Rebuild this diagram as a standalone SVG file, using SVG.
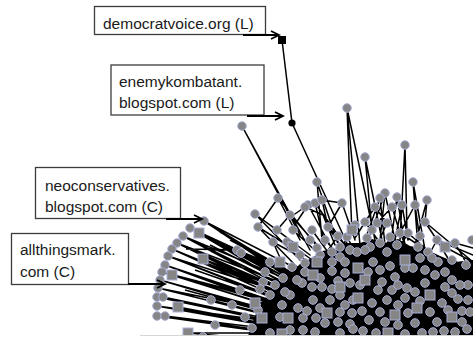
<svg xmlns="http://www.w3.org/2000/svg" xmlns:xlink="http://www.w3.org/1999/xlink" width="473" height="341" viewBox="0 0 473 341">
  <style>
    .nd { fill: #858585; stroke: #a9b0da; stroke-width: 1; }
    .ln { stroke: #000; stroke-width: 1.5; fill: none; stroke-linecap: round; }
    .fan { stroke: #000; stroke-width: 1.5; fill: none; }
    .box { fill: #fff; stroke: #3c3c3c; stroke-width: 1.3; }
    .lbl { font-family: "Liberation Sans", Arial, sans-serif; font-size: 15.5px; fill: #1a1a1a; }
    .ptr { stroke: #000; stroke-width: 2; fill: none; marker-end: url(#chev); }
  </style>
  <defs>
    <marker id="chev" markerUnits="userSpaceOnUse" markerWidth="12" markerHeight="12" refX="9" refY="5" orient="auto">
      <path d="M1,1 L9,5 L1,9" fill="none" stroke="#000" stroke-width="1.8"/>
    </marker>
    <circle id="c" r="4.3" class="nd"/>
    <rect id="s" x="-5" y="-5" width="10" height="10" class="nd"/>
    <clipPath id="cut"><rect x="0" y="0" width="473" height="335"/></clipPath>
  </defs>

  <!-- connectors -->
  <g id="connectors" clip-path="url(#cut)">
    <!-- dense core of overlapping edges -->
    <path d="M248 336 L254 318 L262 302 L272 290 L282 281 L292 272 L300 264 L312 258 L322 251 L335 249 L345 243 L360 243 L372 239 L385 243 L398 239 L410 246 L425 249 L440 256 L455 262 L473 260 L473 336 Z" fill="#000"/>
    <!-- left fan -->
    <path class="fan" d="
      M204 221 L420 353 M204 221 L395 350 M204 221 L445 345 M204 221 L370 330
      M190 228 L420 353 M190 228 L395 350 M190 228 L445 345 M190 228 L360 320
      M183 236 L420 353 M183 236 L395 350 M183 236 L370 330 M183 236 L445 345
      M177 243 L420 353 M177 243 L395 350 M177 243 L445 345 M177 243 L365 325
      M172 249 L420 353 M172 249 L395 350 M172 249 L370 330
      M168 256 L420 353 M168 256 L445 345 M168 256 L380 340
      M165 265 L420 353 M165 265 L395 350 M165 265 L360 330
      M162 272 L420 353 M162 272 L445 345 M162 272 L370 330
      M160 280 L420 353 M160 280 L395 350 M160 280 L360 335
      M158 288 L420 353 M158 288 L445 345 M158 288 L370 330
      M157 297 L420 353 M163 297 L395 350 M163 297 L370 340
      M157 306 L420 353 M157 306 L445 345 M157 306 L360 340
      M157 316 L420 353 M165 316 L395 350 M165 316 L360 340
      M199 233 L420 353 M199 233 L395 350 M199 233 L445 345 M199 233 L350 310
      M203 259 L420 353 M203 259 L395 350 M203 259 L360 320
      M172 275 L420 353 M172 275 L445 345 M172 275 L365 335
      M178 307 L420 353 M178 307 L395 350
      M188 333 L420 353 M188 333 L260 333
      M211 300 L420 353 M215 325 L395 350
      M237 250 L420 353 M237 250 L395 350 M237 250 L360 300
      M241 253 L445 345 M245 317 L420 353 M252 328 L420 353
      M186 249 L240 250 M218 262 L350 320 M225 280 L360 330 M230 240 L360 310
      M210 245 L355 318 M195 270 L360 328 M185 290 L355 336 M220 232 L340 300"/>
    <!-- spokes from the upper fringe -->
    <path class="ln" d="
      M282 40 L292 123
      M292 123 L350 250
      M242 126 L300 235 M242 126 L310 250
      M347 108 L360 245 M347 108 L375 240 M347 108 L352 235
      M365 157 L382 240 M365 157 L372 230
      M405 145 L407 233 M405 145 L400 240
      M413 182 L418 247 M413 182 L425 250
      M317 182 L340 250 M317 182 L322 240
      M385 193 L372 230 M385 193 L395 240 M385 193 L380 240
      M397 197 L390 250 M397 197 L405 245
      M380 198 L365 240 M380 198 L385 245
      M427 200 L425 222 L437 240 M427 200 L415 245
      M402 205 L408 240 M402 205 L395 240
      M415 205 L400 233 M415 205 L420 240
      M278 198 L300 240 M278 198 L258 227 M278 198 L320 250
      M308 205 L330 245 M308 205 L290 232
      M315 203 L345 245 M315 203 L325 245
      M322 200 L328 227 L340 245
      M342 203 L355 240 M342 203 L328 227 M342 203 L322 200
      M375 207 L387 223 M392 207 L377 223
      M255 214 L290 240 M255 214 L277 230 M255 214 L300 260
      M290 215 L320 248 M290 215 L277 230
      M305 207 L323 215 L335 245 M305 207 L292 216
      M258 227 L295 250 M277 230 L310 255 M293 230 L320 255
      M273 242 L310 262 M287 242 L315 262 M258 227 L300 270 M273 242 L290 280
      M365 222 L355 238 M425 222 L437 240
      M437 240 L473 255 M455 243 L473 248 M445 247 L473 262
      M452 260 L473 270 M418 247 L450 262
      M425 222 L473 262 M400 233 L473 280 M408 233 L473 290
      M437 240 L473 300 M455 243 L473 275
      M328 227 L350 250 M347 237 L360 260 M355 225 L340 250 M372 230 L360 255
      M365 222 L385 250 M387 223 L375 250 M400 233 L410 255 M408 233 L395 255
      M418 247 L430 262 M437 240 L425 262
      M312 230 L330 255 M338 236 L320 262 M325 240 L345 262 M390 237 L380 262
      M420 236 L410 260 M392 207 L400 233 M375 207 L365 222"/>
  </g>

  <!-- network nodes -->
  <g id="cluster-nodes" clip-path="url(#cut)">
    <use href="#c" x="347" y="108"/><use href="#c" x="242" y="126"/><use href="#c" x="405" y="145"/>
    <use href="#c" x="365" y="157"/><use href="#c" x="413" y="182"/><use href="#c" x="317" y="182"/>
    <use href="#c" x="385" y="193"/><use href="#c" x="397" y="197"/><use href="#c" x="380" y="198"/>
    <use href="#c" x="427" y="200"/><use href="#c" x="402" y="205"/><use href="#c" x="415" y="205"/>
    <use href="#c" x="278" y="198"/><use href="#c" x="308" y="205"/><use href="#c" x="315" y="203"/>
    <use href="#c" x="322" y="200"/><use href="#c" x="342" y="203"/><use href="#c" x="375" y="207"/>
    <use href="#c" x="392" y="207"/><use href="#c" x="255" y="214"/><use href="#c" x="290" y="215"/>
    <use href="#c" x="305" y="207"/><use href="#c" x="258" y="227"/><use href="#c" x="277" y="230"/>
    <use href="#c" x="293" y="230"/><use href="#c" x="273" y="242"/><use href="#c" x="287" y="242"/>
    <use href="#c" x="328" y="227"/><use href="#c" x="347" y="237"/><use href="#c" x="340" y="247"/>
    <use href="#c" x="350" y="250"/><use href="#c" x="357" y="252"/><use href="#c" x="317" y="248"/>
    <use href="#c" x="320" y="255"/><use href="#c" x="332" y="252"/><use href="#c" x="340" y="257"/>
    <use href="#c" x="365" y="222"/><use href="#c" x="377" y="223"/><use href="#c" x="387" y="223"/>
    <use href="#c" x="355" y="225"/><use href="#c" x="372" y="230"/><use href="#c" x="400" y="233"/>
    <use href="#c" x="408" y="233"/><use href="#c" x="425" y="222"/><use href="#c" x="367" y="238"/>
    <use href="#c" x="370" y="247"/><use href="#c" x="387" y="252"/><use href="#c" x="418" y="247"/>
    <use href="#c" x="437" y="240"/><use href="#c" x="455" y="243"/><use href="#c" x="452" y="260"/>
    <use href="#c" x="472" y="240"/><use href="#c" x="380" y="243"/><use href="#c" x="397" y="245"/>
    <use href="#c" x="428" y="252"/><use href="#c" x="310" y="240"/><use href="#c" x="300" y="255"/>
    <use href="#c" x="312" y="230"/><use href="#c" x="338" y="236"/><use href="#c" x="325" y="240"/>
    <use href="#c" x="390" y="237"/><use href="#c" x="420" y="236"/>
    <!-- left fan -->
    <use href="#c" x="237" y="250"/><use href="#c" x="241" y="253"/><use href="#c" x="204" y="221"/>
    <use href="#c" x="190" y="228"/><use href="#c" x="183" y="236"/><use href="#c" x="177" y="243"/>
    <use href="#c" x="172" y="249"/><use href="#c" x="168" y="256"/><use href="#c" x="165" y="265"/>
    <use href="#c" x="162" y="272"/><use href="#c" x="160" y="280"/><use href="#c" x="158" y="288"/>
    <use href="#c" x="157" y="297"/><use href="#c" x="163" y="297"/><use href="#c" x="157" y="306"/>
    <use href="#c" x="157" y="316"/><use href="#c" x="165" y="316"/><use href="#c" x="211" y="300"/>
    <use href="#c" x="215" y="325"/><use href="#c" x="203" y="337"/><use href="#c" x="245" y="317"/>
    <use href="#c" x="252" y="328"/><use href="#c" x="232" y="305"/><use href="#c" x="240" y="290"/>
    <use href="#s" x="199" y="233"/><use href="#s" x="203" y="259"/><use href="#s" x="172" y="275"/>
    <use href="#s" x="178" y="307"/><use href="#s" x="188" y="333"/>
    <!-- core -->
    <use href="#c" x="270" y="262"/><use href="#c" x="265" y="272"/><use href="#c" x="283" y="278"/>
    <use href="#c" x="263" y="282"/><use href="#c" x="260" y="289"/><use href="#c" x="290" y="295"/>
    <use href="#c" x="302" y="283"/><use href="#c" x="305" y="272"/><use href="#c" x="305" y="263"/>
    <use href="#c" x="280" y="317"/><use href="#c" x="303" y="330"/><use href="#c" x="298" y="308"/>
    <use href="#c" x="307" y="311"/><use href="#c" x="292" y="267"/><use href="#c" x="332" y="262"/>
    <use href="#c" x="345" y="262"/><use href="#c" x="332" y="271"/><use href="#c" x="345" y="273"/>
    <use href="#c" x="350" y="283"/><use href="#c" x="297" y="280"/><use href="#c" x="312" y="287"/>
    <use href="#c" x="322" y="287"/><use href="#c" x="332" y="289"/><use href="#c" x="270" y="295"/>
    <use href="#c" x="313" y="300"/><use href="#c" x="330" y="300"/><use href="#c" x="340" y="295"/>
    <use href="#c" x="353" y="300"/><use href="#c" x="282" y="305"/><use href="#c" x="303" y="318"/>
    <use href="#c" x="316" y="318"/><use href="#c" x="340" y="312"/><use href="#c" x="352" y="313"/>
    <use href="#c" x="325" y="323"/><use href="#c" x="338" y="322"/><use href="#c" x="350" y="324"/>
    <use href="#c" x="270" y="333"/><use href="#c" x="315" y="332"/><use href="#c" x="340" y="333"/>
    <use href="#c" x="353" y="329"/><use href="#c" x="373" y="262"/><use href="#c" x="405" y="268"/>
    <use href="#c" x="413" y="268"/><use href="#c" x="435" y="275"/><use href="#c" x="452" y="280"/>
    <use href="#c" x="382" y="282"/><use href="#c" x="395" y="277"/><use href="#c" x="407" y="288"/>
    <use href="#c" x="378" y="290"/><use href="#c" x="415" y="292"/><use href="#c" x="452" y="293"/>
    <use href="#c" x="458" y="299"/><use href="#c" x="372" y="303"/><use href="#c" x="387" y="300"/>
    <use href="#c" x="398" y="305"/><use href="#c" x="430" y="312"/><use href="#c" x="442" y="303"/>
    <use href="#c" x="408" y="313"/><use href="#c" x="385" y="322"/><use href="#c" x="398" y="325"/>
    <use href="#c" x="415" y="323"/><use href="#c" x="437" y="322"/><use href="#c" x="462" y="322"/>
    <use href="#c" x="422" y="333"/><use href="#c" x="433" y="332"/><use href="#c" x="455" y="332"/>
    <use href="#c" x="467" y="329"/><use href="#c" x="468" y="300"/><use href="#c" x="362" y="311"/>
    <use href="#c" x="425" y="283"/><use href="#c" x="445" y="287"/><use href="#c" x="420" y="301"/>
    <use href="#c" x="369" y="320"/><use href="#c" x="462" y="311"/><use href="#c" x="376" y="333"/>
    <use href="#c" x="405" y="334"/><use href="#c" x="444" y="331"/><use href="#c" x="468" y="285"/>
    <use href="#c" x="360" y="285"/><use href="#c" x="392" y="290"/><use href="#c" x="438" y="262"/>
    <use href="#c" x="390" y="266"/><use href="#c" x="420" y="258"/><use href="#c" x="466" y="265"/>
    <use href="#c" x="258" y="310"/><use href="#c" x="275" y="285"/><use href="#c" x="365" y="250"/>
    <use href="#c" x="285" y="292"/><use href="#c" x="320" y="278"/><use href="#c" x="338" y="281"/>
    <use href="#c" x="368" y="272"/><use href="#c" x="380" y="270"/><use href="#c" x="398" y="285"/>
    <use href="#c" x="425" y="270"/><use href="#c" x="445" y="272"/><use href="#c" x="460" y="285"/>
    <use href="#c" x="470" y="312"/><use href="#c" x="448" y="310"/><use href="#c" x="405" y="298"/>
    <use href="#c" x="380" y="312"/><use href="#c" x="363" y="331"/><use href="#c" x="320" y="308"/>
    <use href="#c" x="290" y="330"/><use href="#c" x="345" y="305"/><use href="#c" x="432" y="258"/>
    <use href="#s" x="293" y="247"/><use href="#s" x="288" y="318"/><use href="#s" x="262" y="318"/>
    <use href="#s" x="282" y="334"/><use href="#s" x="352" y="230"/><use href="#s" x="280" y="262"/>
    <use href="#s" x="317" y="262"/><use href="#s" x="313" y="275"/><use href="#s" x="255" y="303"/>
    <use href="#s" x="327" y="313"/><use href="#s" x="445" y="247"/><use href="#s" x="358" y="268"/>
    <use href="#s" x="365" y="280"/><use href="#s" x="430" y="295"/><use href="#s" x="358" y="298"/>
    <use href="#s" x="417" y="308"/><use href="#s" x="395" y="315"/><use href="#s" x="452" y="317"/>
    <use href="#s" x="388" y="333"/><use href="#s" x="340" y="287"/><use href="#s" x="405" y="260"/>
  </g>
  <line x1="140" y1="335.5" x2="473" y2="335.5" stroke="#d6d6d6" stroke-width="1.2"/>

  <!-- highlighted nodes -->
  <g id="node-democratvoice">
    <rect x="278" y="36" width="8" height="8" fill="#000"/>
  </g>
  <g id="node-enemykombatant">
    <circle cx="292" cy="123" r="3.6" fill="#000"/>
  </g>

  <!-- callout labels -->
  <g id="label-democratvoice">
    <rect class="box" x="94.5" y="6.5" width="171" height="28"/>
    <text class="lbl" x="103" y="29">democratvoice.org (L)</text>
    <path class="ptr" d="M243 35 L279 35"/>
  </g>
  <g id="label-enemykombatant">
    <rect class="box" x="111" y="65" width="153" height="50"/>
    <text class="lbl" x="119" y="87">enemykombatant.</text>
    <text class="lbl" x="119" y="108">blogspot.com (L)</text>
    <path class="ptr" d="M247 116 L283 116"/>
  </g>
  <g id="label-neoconservatives">
    <rect class="box" x="35.5" y="167.5" width="145" height="51"/>
    <text class="lbl" x="45" y="191">neoconservatives.</text>
    <text class="lbl" x="45" y="212">blogspot.com (C)</text>
    <path class="ptr" d="M166 219 L202 219"/>
  </g>
  <g id="label-allthingsmark">
    <rect class="box" x="11.5" y="233.5" width="117" height="51"/>
    <text class="lbl" x="20" y="255">allthingsmark.</text>
    <text class="lbl" x="20" y="277">com (C)</text>
    <path class="ptr" d="M128 284 L165 284"/>
  </g>
</svg>
